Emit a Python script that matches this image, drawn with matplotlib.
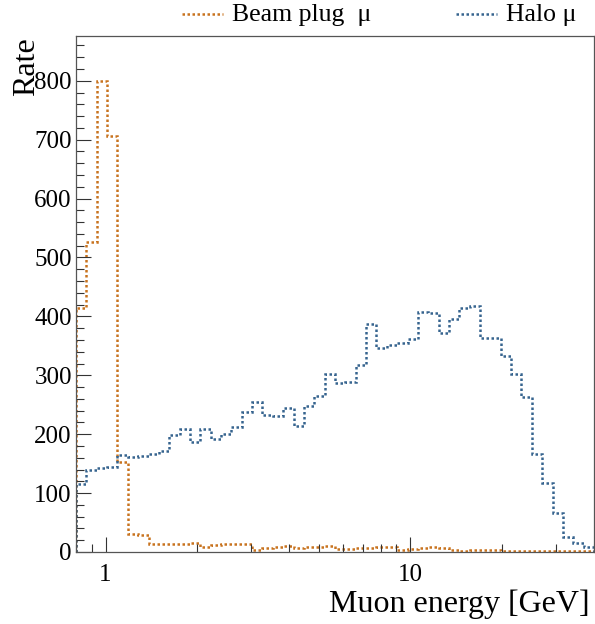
import matplotlib
matplotlib.use('Agg')

import numpy as np
import matplotlib.pyplot as plt
from matplotlib.ticker import LogLocator, FixedFormatter, FixedLocator, MultipleLocator

# 50 log-spaced bins between 0.8 and 40 GeV
edges = np.geomspace(0.8, 40, 51)

beam_plug = [415, 526, 800, 707, 153, 31, 29, 13, 13, 14,
             14, 15, 9, 12, 14, 14, 13, 4, 7, 9,
             11, 7, 9, 8, 10, 5, 5, 6, 6, 8,
             8, 3, 5, 6, 8, 6, 3, 1, 3, 4,
             4, 1, 1, 1, 1, 1, 1, 1, 1, 1]

halo = [115, 139, 143, 145, 164, 161, 163, 167, 172, 199,
        208, 186, 208, 191, 201, 213, 237, 254, 233, 231,
        245, 214, 248, 264, 302, 287, 289, 317, 387, 346,
        351, 355, 361, 408, 405, 371, 396, 415, 418, 363,
        364, 333, 302, 263, 166, 117, 66, 25, 15, 9]

plt.rcParams['font.family'] = ['Liberation Serif', 'DejaVu Serif']

orange = '#c8731e'
blue = '#36648f'
dots = (0, (1, 1))

fig = plt.figure(figsize=(5.95, 6.24), dpi=100)
ax = fig.add_axes([0.1277, 0.1154, 0.8706, 0.8269])

ax.stairs(beam_plug, edges, color=orange, lw=1.8, linestyle=dots, label='Beam plug  μ')
ax.stairs(halo, edges, color=blue, lw=1.8, linestyle=dots, label='Halo μ')

ax.set_xscale('log')
ax.set_xlim(0.8, 40)
ax.set_ylim(0, 876)

ax.xaxis.set_major_locator(FixedLocator([1, 10]))
ax.xaxis.set_major_formatter(FixedFormatter(['1', '10']))
ax.xaxis.set_minor_locator(LogLocator(base=10, subs=np.arange(2, 10)))
ax.xaxis.set_minor_formatter(FixedFormatter([]))
ax.yaxis.set_major_locator(MultipleLocator(100))
ax.yaxis.set_minor_locator(MultipleLocator(20))

ax.tick_params(which='both', direction='in', color='#333333', width=0.8,
               labelsize=18, top=False, right=False)
ax.tick_params(which='major', length=11)
ax.tick_params(which='minor', length=5.5)
ax.tick_params(axis='x', pad=9)
ax.tick_params(axis='y', pad=3)

for s in ax.spines.values():
    s.set_color('#555555')
    s.set_linewidth(0.9)

fig.text(0.02, 1 - 37 / 624, 'Rate', rotation=90, ha='left', va='top', fontsize=23)
fig.text(590 / 595, 1 - 612 / 624, 'Muon energy [GeV]', ha='right', va='baseline', fontsize=23)

ax.legend(loc='center left', bbox_to_anchor=(0.2046, 1.0407), ncol=2, frameon=False,
          fontsize=18.5, handlelength=1.6, handletextpad=0.35, columnspacing=3.3,
          borderpad=0, borderaxespad=0, handleheight=0.5)

fig.savefig('out.png', dpi=100)
